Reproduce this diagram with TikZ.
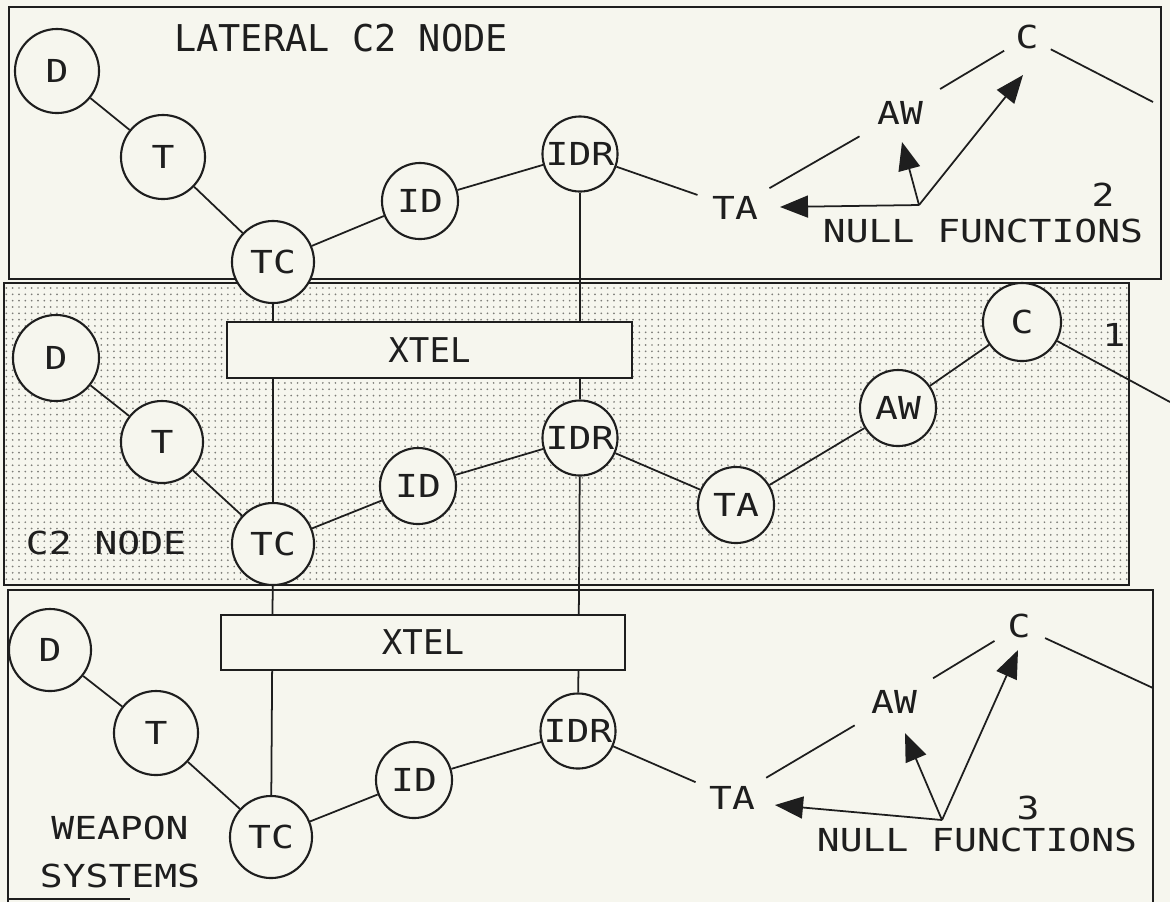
\documentclass[tikz,border=0pt]{standalone}
\usepackage{fontspec}
\usetikzlibrary{arrows.meta,patterns}
\newfontfamily\plotfont{DejaVu Sans Mono}[FakeStretch=1.2]
\newfontfamily\plotfontn{DejaVu Sans Mono}
\definecolor{bgcol}{RGB}{246,246,238}
\definecolor{inkcol}{RGB}{30,30,30}
\definecolor{dotcol}{RGB}{125,125,120}
\pgfdeclarepatternformonly{finedots}{\pgfqpoint{-0.4pt}{-0.4pt}}{\pgfqpoint{0.4pt}{0.4pt}}{\pgfqpoint{1.8pt}{1.8pt}}{\pgfpathcircle{\pgfpointorigin}{0.27pt}\pgfusepath{fill}}
\pgfdeclarelayer{panels}
\pgfdeclarelayer{wires}
\pgfsetlayers{panels,wires,main}
\begin{document}
\begin{tikzpicture}[x=0.01cm,y=-0.01cm,
  fn/.style={circle,draw=inkcol,line width=0.6pt,fill=bgcol,inner sep=0pt,minimum size=0.82cm,text=inkcol,font=\fontsize{9pt}{9pt}\plotfont\selectfont},
  nullfn/.style={circle,inner sep=0pt,text=inkcol,font=\fontsize{9pt}{9pt}\plotfont\selectfont},
  conn/.style={draw=inkcol,line width=0.5pt},
  panel/.style={draw=inkcol,line width=0.6pt},
  xtelbox/.style={rectangle,draw=inkcol,line width=0.6pt,fill=bgcol,inner sep=0pt,minimum width=4.05cm,minimum height=0.56cm,text=inkcol,font=\fontsize{9.7pt}{10pt}\plotfontn\selectfont},
  lbl/.style={text=inkcol,inner sep=0pt,font=\fontsize{9pt}{10pt}\plotfont\selectfont},
  biglbl/.style={text=inkcol,inner sep=0pt,font=\fontsize{10.5pt}{11pt}\plotfontn\selectfont},
  nullarrow/.style={draw=inkcol,line width=0.5pt,-{Triangle[length=0.28cm,width=0.22cm]}}
]
\useasboundingbox (0,0) rectangle (1170,902);

% ---------- top panel: LATERAL C2 NODE ----------
\node[fn,minimum size=0.84cm] (dA) at (57,71) {D};
\node[fn,minimum size=0.84cm] (tA) at (163,157) {T};
\node[fn] (tcA) at (273,262) {TC};
\node[fn,minimum size=0.76cm] (idA) at (420,201) {ID};
\node[fn,minimum size=0.75cm] (idrA) at (580,154) {IDR};
\node[nullfn,minimum size=0.78cm] (taA) at (735,208) {TA};
\node[nullfn,minimum size=0.92cm] (awA) at (900,113) {AW};
\node[nullfn,minimum size=0.52cm] (cA) at (1027,37) {C};
\coordinate (cAr) at (1153,102);
\coordinate (pA) at (919,205);
\coordinate (taAtip) at (780,207);
\coordinate (awAtip) at (902,142);
\coordinate (cAtip) at (1023,75);
\node[biglbl] (latlbl) at (341,38) {LATERAL C2 NODE};
\node[lbl] (twoA) at (1103,195) {2};
\node[lbl] (nullA) at (983,231) {NULL FUNCTIONS};

% ---------- middle panel: C2 NODE ----------
\node[fn,minimum size=0.86cm] (dB) at (56,358) {D};
\node[fn] (tB) at (162,442) {T};
\node[fn] (tcB) at (273,544) {TC};
\node[fn,minimum size=0.76cm] (idB) at (418,486) {ID};
\node[fn,minimum size=0.75cm] (idrB) at (580,438) {IDR};
\node[fn,minimum size=0.76cm] (taB) at (736,505) {TA};
\node[fn,minimum size=0.76cm] (awB) at (898,408) {AW};
\node[fn,minimum size=0.78cm] (cB) at (1022,322) {C};
\coordinate (cBr) at (1170,402);
\node[xtelbox] (xtelB) at (429.5,350) {XTEL\hspace{0.22cm}};
\node[lbl] (c2lbl) at (106,543) {C2 NODE};
\node[lbl] (oneB) at (1114,335) {1};

% ---------- bottom panel: WEAPON SYSTEMS ----------
\node[fn] (dC) at (50,650) {D};
\node[fn,minimum size=0.84cm] (tC) at (156,733) {T};
\node[fn] (tcC) at (271,837) {TC};
\node[fn,minimum size=0.76cm] (idC) at (414,780) {ID};
\node[fn,minimum size=0.75cm] (idrC) at (578,731) {IDR};
\node[nullfn,minimum size=0.78cm] (taC) at (732,798) {TA};
\node[nullfn,minimum size=0.9cm] (awC) at (894,702) {AW};
\node[nullfn,minimum size=0.56cm] (cC) at (1019,626) {C};
\coordinate (cCr) at (1153,688);
\coordinate (pC) at (942,820);
\coordinate (taCtip) at (775,805);
\coordinate (awCtip) at (905,733);
\coordinate (cCtip) at (1018,650);
\node[xtelbox,minimum width=4.04cm,minimum height=0.55cm] (xtelC) at (423,642.5) {XTEL};
\node[lbl,align=center,font=\fontsize{9pt}{13.4pt}\plotfont\selectfont] (wslbl) at (120,852) {WEAPON\\SYSTEMS};
\node[lbl] (threeC) at (1028,808) {3};
\node[lbl] (nullC) at (977,840) {NULL FUNCTIONS};

% ---------- connectors ----------
\begin{pgfonlayer}{wires}
\draw[conn] (dA) -- (tA);
\draw[conn] (tA) -- (tcA);
\draw[conn] (tcA) -- (idA);
\draw[conn] (idA) -- (idrA);
\draw[conn] (idrA) -- (taA);
\draw[conn] (taA) -- (awA);
\draw[conn] (awA) -- (cA);
\draw[conn] (cA) -- (cAr);
\draw[nullarrow] (pA) -- (taAtip);
\draw[nullarrow] (pA) -- (awAtip);
\draw[nullarrow] (pA) -- (cAtip);

\draw[conn] (dB) -- (tB);
\draw[conn] (tB) -- (tcB);
\draw[conn] (tcB) -- (idB);
\draw[conn] (idB) -- (idrB);
\draw[conn] (idrB) -- (taB);
\draw[conn] (taB) -- (awB);
\draw[conn] (awB) -- (cB);
\draw[conn] (cB) -- (cBr);

\draw[conn] (dC) -- (tC);
\draw[conn] (tC) -- (tcC);
\draw[conn] (tcC) -- (idC);
\draw[conn] (idC) -- (idrC);
\draw[conn] (idrC) -- (taC);
\draw[conn] (taC) -- (awC);
\draw[conn] (awC) -- (cC);
\draw[conn] (cC) -- (cCr);
\draw[nullarrow] (pC) -- (taCtip);
\draw[nullarrow] (pC) -- (awCtip);
\draw[nullarrow] (pC) -- (cCtip);

\draw[conn] (tcA) -- (tcB);
\draw[conn] (tcB) -- (tcC);
\draw[conn] (idrA) -- (idrB);
\draw[conn] (idrB) -- (idrC);
\end{pgfonlayer}

% ---------- panels ----------
\begin{pgfonlayer}{panels}
\fill[bgcol] (0,0) rectangle (1170,902);
\path[pattern=finedots,pattern color=dotcol] (4,283) rectangle (1129,585);
\draw[panel] (9,7) rectangle (1161,279);
\draw[panel] (4,283) rectangle (1129,585);
\draw[panel] (8,902) -- (8,590) -- (1153,590) -- (1153,902);
\draw[panel] (8,899) -- (130,899);
\end{pgfonlayer}
\end{tikzpicture}
\end{document}
